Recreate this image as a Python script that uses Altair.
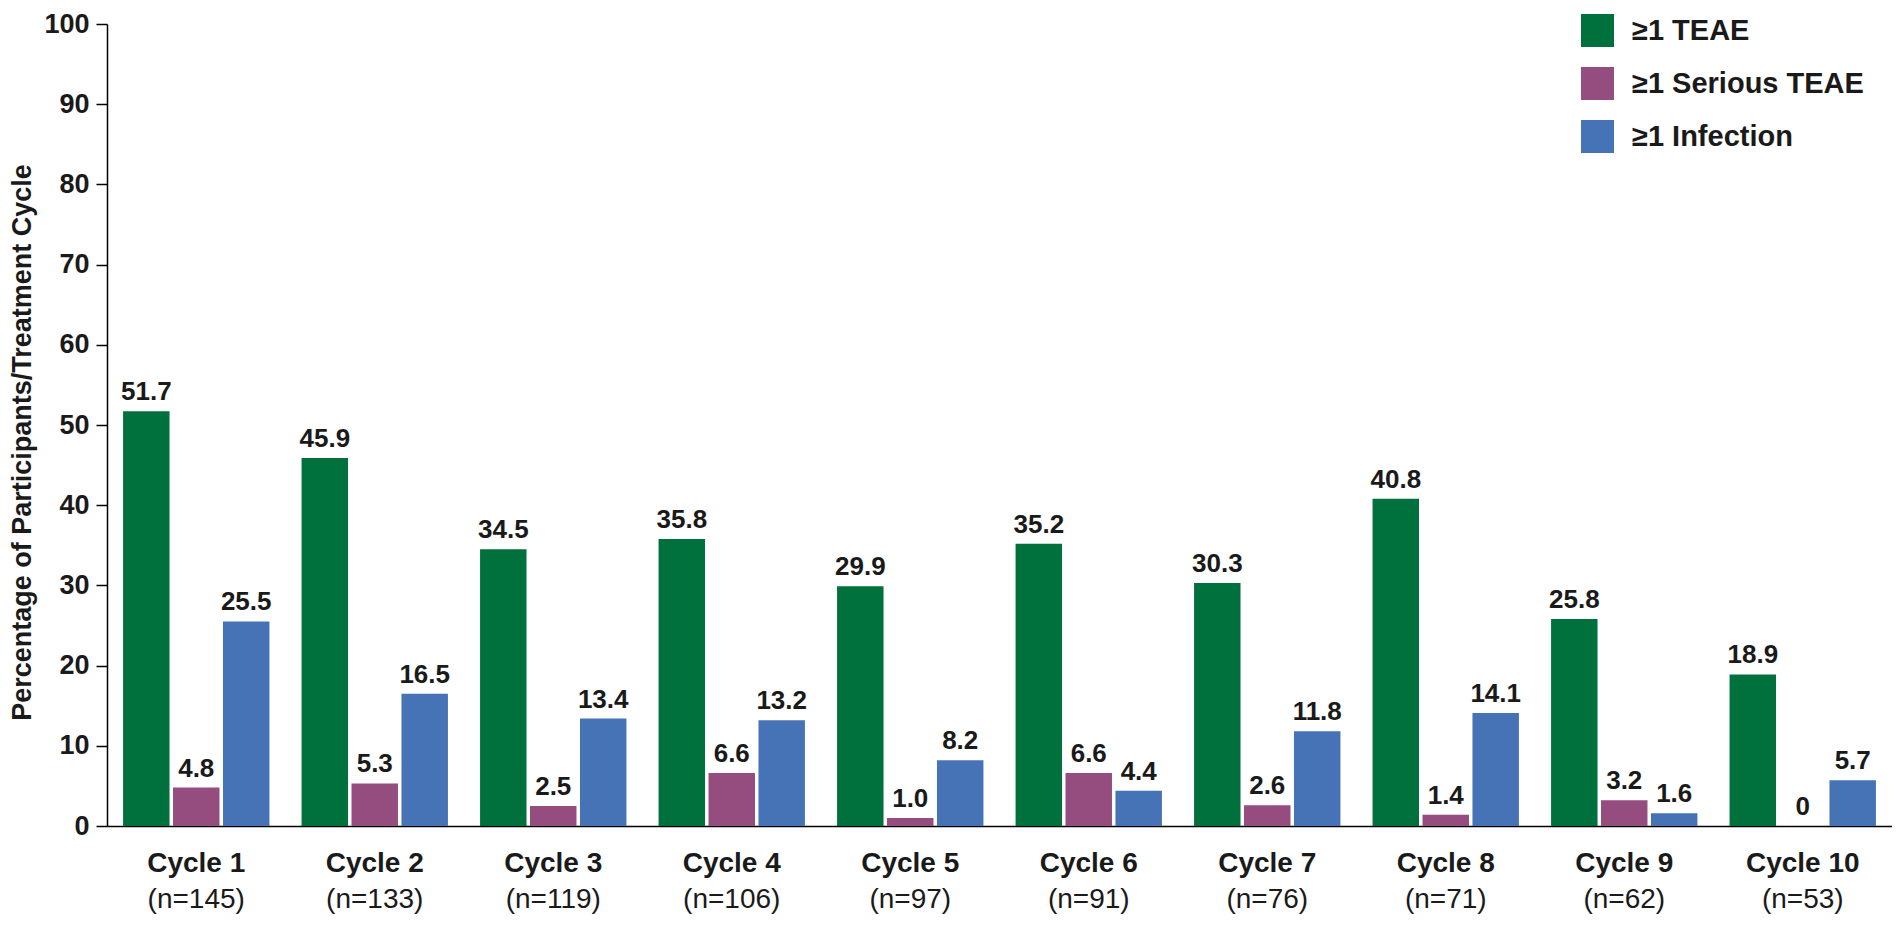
import altair as alt
import pandas as pd

cycles = ["Cycle 1", "Cycle 2", "Cycle 3", "Cycle 4", "Cycle 5",
          "Cycle 6", "Cycle 7", "Cycle 8", "Cycle 9", "Cycle 10"]
n_counts = [145, 133, 119, 106, 97, 91, 76, 71, 62, 53]
series = ["≥1 TEAE", "≥1 Serious TEAE", "≥1 Infection"]
teae = [51.7, 45.9, 34.5, 35.8, 29.9, 35.2, 30.3, 40.8, 25.8, 18.9]
serious = [4.8, 5.3, 2.5, 6.6, 1.0, 6.6, 2.6, 1.4, 3.2, 0]
infection = [25.5, 16.5, 13.4, 13.2, 8.2, 4.4, 11.8, 14.1, 1.6, 5.7]
colors = ["#00703C", "#954C7E", "#4673B6"]
y_ticks = list(range(0, 101, 10))

rows = []
for s, vals in zip(series, [teae, serious, infection]):
    for c, v in zip(cycles, vals):
        rows.append({"cycle": c, "series": s, "value": v})
df = pd.DataFrame(rows)
ndf = pd.DataFrame({"cycle": cycles, "nlabel": [f"(n={n})" for n in n_counts]})

W, H = 1785, 802
FONT = "Liberation Sans"

x_enc = alt.X("cycle:N", sort=cycles,
              scale=alt.Scale(paddingInner=0.18, paddingOuter=0.09),
              axis=alt.Axis(title=None, labelAngle=0, ticks=False,
                            labelFontSize=28, labelFontWeight="bold",
                            labelColor="#1a1a1a", labelPadding=23,
                            domainColor="black", domainWidth=1.5))
xoff = alt.XOffset("series:N", sort=series,
                   scale=alt.Scale(paddingInner=0.07, paddingOuter=0))
y_enc = alt.Y("value:Q",
              scale=alt.Scale(domain=[0, 100], nice=False),
              axis=alt.Axis(title="Percentage of Participants/Treatment Cycle",
                            values=y_ticks, grid=False,
                            labelFontSize=27, labelFontWeight="bold",
                            labelColor="#1a1a1a", labelPadding=7,
                            tickSize=11, tickWidth=1.5, tickColor="black",
                            domainColor="black", domainWidth=1.5,
                            titleFontSize=27, titleFontWeight="bold",
                            titleColor="#1a1a1a", titleAngle=270,
                            titleAlign="center", titleBaseline="alphabetic",
                            titleX=-77, titleY=418))

bars = alt.Chart(df).mark_bar().encode(
    x=x_enc, xOffset=xoff, y=y_enc,
    color=alt.Color("series:N", sort=series,
                    scale=alt.Scale(domain=series, range=colors),
                    legend=alt.Legend(title=None, orient="none",
                                      legendX=1474, legendY=-10,
                                      symbolType="square", symbolSize=1089,
                                      symbolStrokeWidth=0, symbolOpacity=1,
                                      labelFontSize=29, labelFontWeight="bold",
                                      labelColor="#1a1a1a", labelOffset=18,
                                      rowPadding=20, padding=0,
                                      labelLimit=400)),
)

vals = alt.Chart(df).transform_calculate(
    lbl="datum.value == 0 ? '0' : format(datum.value, '.1f')"
).mark_text(fontSize=26, fontWeight="bold", color="#1a1a1a",
            baseline="alphabetic", dy=-11, font=FONT).encode(
    x=alt.X("cycle:N", sort=cycles),
    xOffset=xoff,
    y=alt.Y("value:Q"),
    text="lbl:N",
)

nlab = alt.Chart(ndf).mark_text(fontSize=28, color="#1a1a1a",
                                baseline="alphabetic", font=FONT).encode(
    x=alt.X("cycle:N", sort=cycles),
    y=alt.value(H + 82),
    text="nlabel:N",
)

chart = alt.layer(bars, vals, nlab).properties(
    width=W, height=H,
    autosize=alt.AutoSizeParams(type="none"),
    padding={"left": 99, "top": 16, "right": 0, "bottom": 92},
    background="white",
).configure(font=FONT).configure_view(stroke=None)

chart.save("out.html", embed_options={"renderer": "svg", "actions": False})
